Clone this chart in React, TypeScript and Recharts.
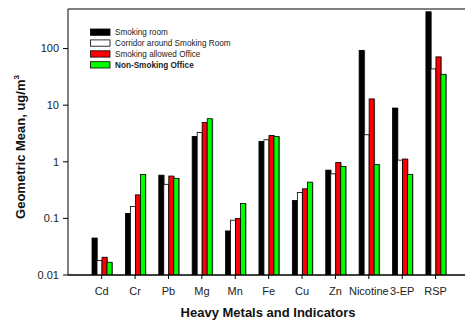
import React from "react";
import { BarChart, Bar, XAxis, YAxis, CartesianGrid } from "recharts";

// Categories along the x axis
const categories = ["Cd", "Cr", "Pb", "Mg", "Mn", "Fe", "Cu", "Zn", "Nicotine", "3-EP", "RSP"];

// Geometric means (ug/m3) for each sampling location
const smokingRoom = [0.045, 0.122, 0.58, 2.8, 0.06, 2.29, 0.207, 0.713, 93, 8.9, 446];
const corridor = [0.018, 0.162, 0.4, 3.3, 0.093, 2.45, 0.286, 0.613, 3.0, 1.07, 43.7];
const smokingOffice = [0.0206, 0.26, 0.56, 4.96, 0.1, 2.92, 0.333, 0.97, 12.9, 1.12, 71.3];
const nonSmokingOffice = [0.0168, 0.596, 0.51, 5.77, 0.183, 2.8, 0.437, 0.826, 0.9, 0.6, 35.1];

const yDomain = [0.01, 500];
const yTicks = [0.01, 0.1, 1, 10, 100];
const yTickLabels = ["0.01", "0.1", "1", "10", "100"];

const series = [
  { key: "smokingRoom", name: "Smoking room", values: smokingRoom, fill: "#000000", bold: false },
  { key: "corridor", name: "Corridor around Smoking Room", values: corridor, fill: "#ffffff", bold: false },
  { key: "smokingOffice", name: "Smoking allowed Office", values: smokingOffice, fill: "#ff0000", bold: false },
  { key: "nonSmokingOffice", name: "Non-Smoking Office", values: nonSmokingOffice, fill: "#00ff00", bold: true },
];

const data = categories.map((c, i) => {
  const row: Record<string, string | number> = { category: c };
  series.forEach((s) => {
    row[s.key] = s.values[i];
  });
  return row;
});

const FONT = '"Liberation Sans", Arial, sans-serif';

// Bar with a thin grey drop shadow on its right side
const ShadowBar = (props: any) => {
  const { x, y, width, height, fill } = props;
  if (height == null || height <= 0) return null;
  return (
    <g>
      <rect x={x + 1} y={y} width={width} height={height} fill="#808080" />
      <rect
        x={x}
        y={y}
        width={width}
        height={height}
        fill={fill}
        stroke="#000"
        strokeWidth={0.8}
      />
    </g>
  );
};

const XTitle = (props: any) => {
  const vb = props.viewBox;
  return (
    <text
      x={268}
      y={vb.y + 42}
      textAnchor="middle"
      fontFamily={FONT}
      fontWeight="bold"
      fontSize={13}
      fill="#111"
    >
      Heavy Metals and Indicators
    </text>
  );
};

const YTitle = () => (
  <text
    transform="translate(25, 147) rotate(-90)"
    textAnchor="middle"
    fontFamily={FONT}
    fontWeight="bold"
    fontSize={13}
    fill="#111"
  >
    Geometric Mean, ug/m
    <tspan fontSize={8} dy={-6}>
      3
    </tspan>
  </text>
);

const LegendBox = () => (
  <svg
    width={300}
    height={80}
    style={{ position: "absolute", left: 0, top: 0, pointerEvents: "none" }}
  >
    {series.map((s, i) => {
      const cy = 32 + i * 10.9;
      return (
        <g key={s.key}>
          <rect x={90.5} y={cy - 3} width={19.5} height={6.3} fill={s.fill} stroke="#000" strokeWidth={0.8} />
          <text
            x={115}
            y={cy + 3}
            fontFamily={FONT}
            fontSize={8.2}
            fontWeight={s.bold ? "bold" : "normal"}
            fill="#222"
          >
            {s.name}
          </text>
        </g>
      );
    })}
  </svg>
);

// Frame lines along the top and bottom edges of the plot area
const frameRows = (props: any) => {
  const { offset } = props;
  return [offset.top, offset.top + offset.height];
};

export default function App() {
  return (
    <div
      style={{
        position: "absolute",
        left: 0,
        top: 0,
        width: 465,
        height: 321,
        overflow: "hidden",
        background: "#fff",
      }}
    >
      <BarChart
        width={465}
        height={321}
        data={data}
        margin={{ top: 9, right: 0, bottom: 16, left: 0 }}
        barSize={5}
        barGap={0}
        barCategoryGap={0}
      >
        <CartesianGrid
          vertical={false}
          horizontalCoordinatesGenerator={frameRows}
          stroke="#000"
          strokeWidth={1}
        />
        <XAxis
          dataKey="category"
          height={30}
          padding={{ left: 17, right: 12.7 }}
          tickSize={4}
          tickMargin={8}
          axisLine={{ stroke: "#000", strokeWidth: 1 }}
          tickLine={{ stroke: "#000" }}
          tick={{ fontFamily: FONT, fontSize: 11, fill: "#222" }}
          interval={0}
          label={<XTitle />}
        />
        <YAxis
          scale="log"
          domain={yDomain}
          allowDataOverflow
          ticks={yTicks}
          tickFormatter={(v: number) => yTickLabels[yTicks.indexOf(v)] ?? String(v)}
          width={68}
          tickSize={5}
          tickMargin={4}
          axisLine={{ stroke: "#000", strokeWidth: 1 }}
          tickLine={{ stroke: "#000" }}
          tick={{ fontFamily: FONT, fontSize: 11, fill: "#222" }}
          label={<YTitle />}
        />
        {series.map((s) => (
          <Bar
            key={s.key}
            dataKey={s.key}
            name={s.name}
            fill={s.fill}
            shape={<ShadowBar />}
            isAnimationActive={false}
          />
        ))}
      </BarChart>
      <LegendBox />
    </div>
  );
}
